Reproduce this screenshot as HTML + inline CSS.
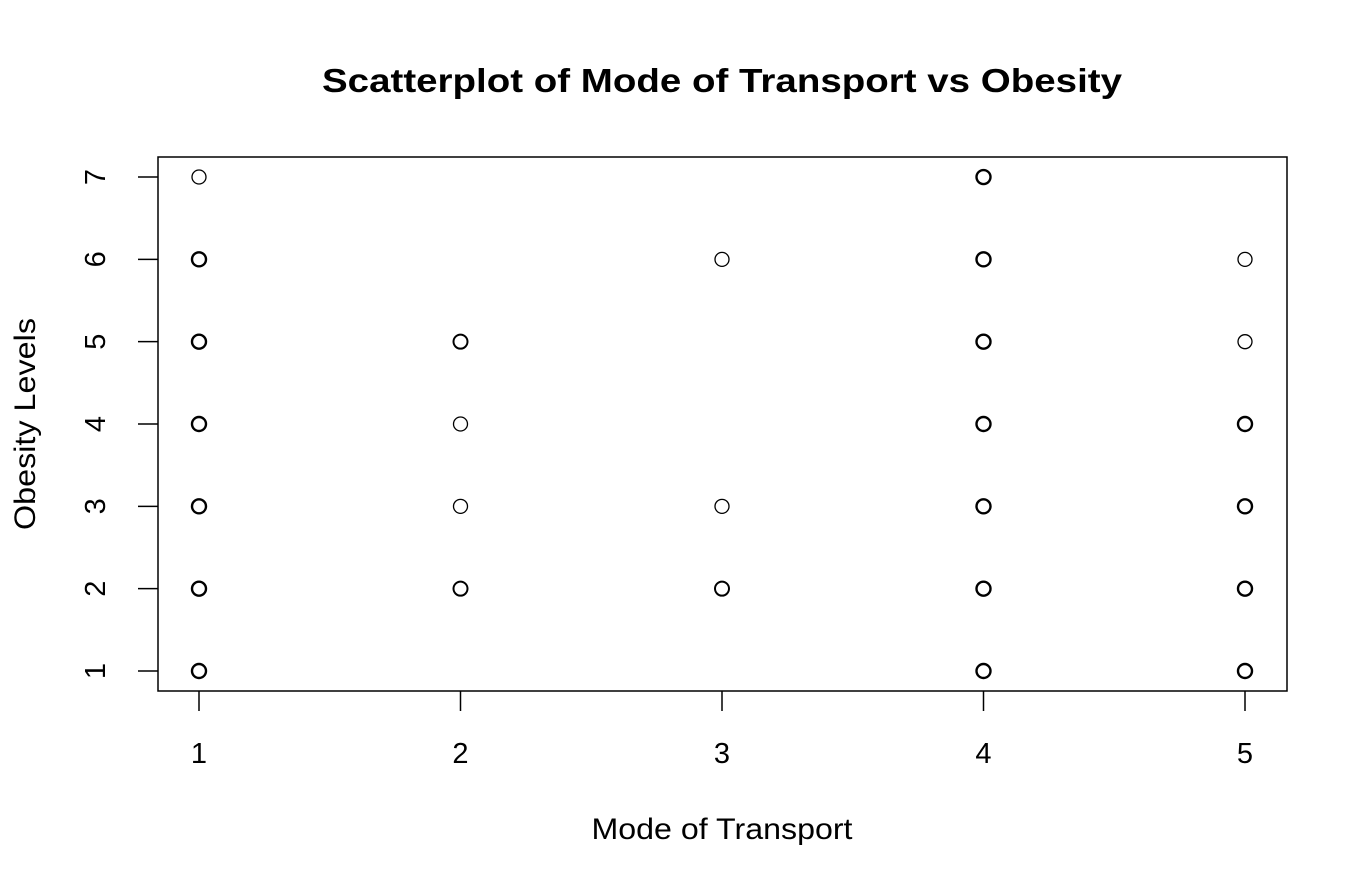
<!DOCTYPE html>
<html><head><meta charset="utf-8"><style>
body{margin:0;background:#fff}
svg{display:block;font-family:"Liberation Sans",Arial,sans-serif}
</style></head><body>
<svg id="chart" width="1368" height="888" viewBox="0 0 1368 888">
<rect width="1368" height="888" fill="#fff"/>
<text x="722" y="92" text-anchor="middle" font-size="33" font-weight="bold" textLength="800" lengthAdjust="spacingAndGlyphs">Scatterplot of Mode of Transport vs Obesity</text>
<rect x="158" y="157" width="1129" height="534" fill="none" stroke="#000" stroke-width="1.5"/>
<g id="xaxis"></g>
<g id="yaxis"></g>
<g id="points"></g>
<text x="722" y="839" text-anchor="middle" font-size="30" textLength="261" lengthAdjust="spacingAndGlyphs">Mode of Transport</text>
<text transform="translate(35,424) rotate(-90)" text-anchor="middle" font-size="30" textLength="212" lengthAdjust="spacingAndGlyphs">Obesity Levels</text>
</svg>
<script>
const xTicks=[1,2,3,4,5];
const yTicks=[1,2,3,4,5,6,7];
const ptX=[1,1,1,1,1,1,1, 2,2,2,2, 3,3,3, 4,4,4,4,4,4,4, 5,5,5,5,5,5];
const ptY=[7,6,5,4,3,2,1, 5,4,3,2, 6,3,2, 7,6,5,4,3,2,1, 6,5,4,3,2,1];
const ptCount=[1,5,5,5,5,5,5, 3,1,1,3, 1,1,3, 5,5,5,5,5,5,5, 1,1,5,5,5,5];
const NS="http://www.w3.org/2000/svg";
const sx=v=>199+(v-1)*261.5;
const sy=v=>671-(v-1)*82.33;
const xa=document.getElementById('xaxis'),ya=document.getElementById('yaxis'),pg=document.getElementById('points');
function mk(tag,attrs,parent){const e=document.createElementNS(NS,tag);for(const k in attrs)e.setAttribute(k,attrs[k]);parent.appendChild(e);return e;}
xTicks.forEach(t=>{
 const l=mk('line',{x1:sx(t),x2:sx(t),y1:691,y2:711,stroke:'#000','stroke-width':1.5},xa);
 
 
 const tx=mk('text',{x:sx(t),y:763,'text-anchor':'middle','font-size':29},xa);
 tx.textContent=t;
 
 
});
yTicks.forEach(t=>{
 const l=mk('line',{x1:138,x2:158,y1:sy(t),y2:sy(t),stroke:'#000','stroke-width':1.5},ya);
 
 
 const tx=mk('text',{transform:`translate(105,${sy(t)}) rotate(-90)`,'text-anchor':'middle','font-size':29},ya);
 tx.textContent=t;
 
 
});
ptX.forEach((x,i)=>{
 const c=mk('circle',{cx:sx(x),cy:sy(ptY[i]),r:7,fill:'none',stroke:'#000','stroke-width':ptCount[i]>=5?2.4:(ptCount[i]>=3?2.0:1.3)},pg);
 
 
});
</script>
</body></html>
